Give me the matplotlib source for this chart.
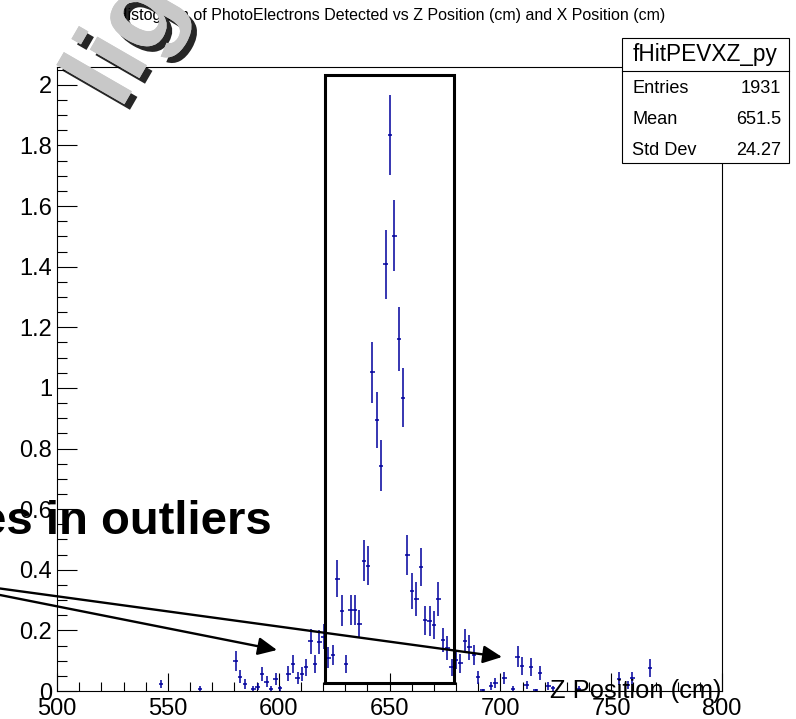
import numpy as np
import matplotlib.pyplot as plt
from matplotlib.patches import Rectangle, FancyArrowPatch, ArrowStyle
import matplotlib.patheffects as pe

plt.rcParams['font.family'] = ['Liberation Sans', 'DejaVu Sans']

# bin centres (cm), mean photoelectrons and error per bin
z_pos = [546.8, 564.6, 580.6, 582.6, 584.7, 588.6, 590.5, 592.5, 594.6, 596.5,
         598.6, 600.6, 604.4, 606.5, 608.5, 610.5, 612.4, 614.4, 616.4, 618.4,
         620.3, 622.4, 624.4, 626.5, 628.5, 630.4, 632.5, 634.4, 636.4, 638.4,
         640.4, 642.3, 644.3, 646.2, 648.2, 650.2, 652.2, 654.2, 656.2, 658.1,
         660.1, 662.1, 664.1, 666.1, 668.1, 670.1, 672.1, 674.1, 676.1, 678.0,
         680.0, 682.0, 684.0, 686.0, 688.0, 690.0, 692.0, 695.9, 697.8, 701.8,
         705.8, 707.8, 709.9, 711.9, 713.9, 715.9, 717.9, 721.7, 723.8, 735.3,
         753.6, 757.6, 759.6, 767.5]
pe_mean = [0.023, 0.008, 0.100, 0.047, 0.023, 0.008, 0.014, 0.056, 0.031, 0.007,
           0.041, 0.009, 0.057, 0.089, 0.042, 0.056, 0.078, 0.164, 0.090, 0.162,
           0.179, 0.110, 0.119, 0.371, 0.265, 0.089, 0.267, 0.267, 0.221, 0.430,
           0.414, 1.051, 0.894, 0.743, 1.408, 1.833, 1.503, 1.161, 0.968, 0.449,
           0.330, 0.304, 0.409, 0.234, 0.231, 0.218, 0.304, 0.168, 0.141, 0.079,
           0.103, 0.091, 0.166, 0.144, 0.119, 0.045, 0.003, 0.017, 0.027, 0.043,
           0.008, 0.113, 0.083, 0.020, 0.080, 0.002, 0.060, 0.017, 0.009, 0.008,
           0.041, 0.020, 0.042, 0.076]
pe_err = [0.014, 0.009, 0.033, 0.021, 0.015, 0.009, 0.011, 0.023, 0.017, 0.008,
          0.020, 0.009, 0.024, 0.030, 0.020, 0.023, 0.028, 0.041, 0.030, 0.040,
          0.042, 0.034, 0.034, 0.060, 0.051, 0.029, 0.050, 0.050, 0.046, 0.067,
          0.063, 0.100, 0.093, 0.084, 0.114, 0.132, 0.118, 0.106, 0.098, 0.065,
          0.058, 0.056, 0.064, 0.048, 0.050, 0.046, 0.055, 0.040, 0.040, 0.028,
          0.031, 0.030, 0.038, 0.041, 0.033, 0.021, 0.005, 0.013, 0.016, 0.021,
          0.009, 0.035, 0.030, 0.014, 0.029, 0.004, 0.024, 0.013, 0.009, 0.009,
          0.021, 0.014, 0.021, 0.029]

x_ticks = [500, 550, 600, 650, 700, 750, 800]
y_ticks = [0, 0.2, 0.4, 0.6, 0.8, 1, 1.2, 1.4, 1.6, 1.8, 2]
stats = [('Entries', '1931'), ('Mean', '651.5'), ('Std Dev', '24.27')]

W, H = 796, 719
fig = plt.figure(figsize=(W / 100, H / 100), dpi=100)


def fx(px):
    return px / W


def fy(py):
    return 1 - py / H


ax = fig.add_axes([fx(57), fy(691), fx(722) - fx(57), fy(66.7) - fy(691)])
ax.errorbar(z_pos, pe_mean, yerr=pe_err, xerr=1.0, fmt='none',
            ecolor='#00009c', elinewidth=1.1, capsize=0)

ax.set_xlim(500, 800)
ax.set_ylim(0, 2.06)
ax.set_xticks(x_ticks)
ax.set_xticklabels([str(t) for t in x_ticks])
ax.set_xticks(np.arange(500, 801, 10), minor=True)
ax.set_yticks(y_ticks)
ax.set_yticklabels([f'{t:g}' for t in y_ticks])
ax.set_yticks(np.arange(0, 2.06, 0.05), minor=True)
ax.tick_params(axis='both', which='both', direction='in', labelsize=17,
               top=False, right=False, width=0.8)
ax.tick_params(axis='x', which='major', length=13, pad=5)
ax.tick_params(axis='x', which='minor', length=6.5)
ax.tick_params(axis='y', which='major', length=14.4, pad=3.6)
ax.tick_params(axis='y', which='minor', length=7.2)
for s in ax.spines.values():
    s.set_linewidth(0.8)

# selection box around the peak
ax.add_patch(Rectangle((621, 0.027), 58, 2.006, fill=False, lw=2.2,
                       edgecolor='black', clip_on=False, zorder=4))

# title
fig.text(fx(665), fy(20), 'Histogram of PhotoElectrons Detected vs Z Position (cm) and X Position (cm)',
         ha='right', va='baseline', fontsize=11.5)

# stats box
fig.add_artist(Rectangle((fx(622), fy(163)), fx(789) - fx(622), fy(38) - fy(163),
                         transform=fig.transFigure, facecolor='white',
                         edgecolor='black', lw=0.8, zorder=5))
fig.add_artist(plt.Line2D([fx(622), fx(789)], [fy(70.7), fy(70.7)],
                          transform=fig.transFigure, color='black', lw=0.8, zorder=6))
fig.text(fx(705.5), fy(54), 'fHitPEVXZ_py', ha='center', va='center',
         fontsize=16.3, zorder=7)
for i, (k, val) in enumerate(stats):
    yb = fy(92.7 + i * 31.2)
    fig.text(fx(632), yb, k, ha='left', va='baseline', fontsize=13.1, zorder=7)
    fig.text(fx(781), yb, val, ha='right', va='baseline', fontsize=13.1, zorder=7)

# x axis title
fig.text(fx(722), fy(698), 'Z Position (cm)', ha='right', va='baseline',
         fontsize=18.4, zorder=8)

# annotation text and arrows
fig.text(fx(272), fy(534), 'es in outliers', ha='right', va='baseline',
         fontsize=34, weight='bold', zorder=8)

for (x0, y0), (x1, y1) in [((0, 588.5), (502, 657)), ((0, 595), (277, 650))]:
    fig.add_artist(FancyArrowPatch((fx(x0), fy(y0)), (fx(x1), fy(y1)),
                                   transform=fig.transFigure,
                                   arrowstyle=ArrowStyle('-|>', head_length=11.5, head_width=5.4),
                                   mutation_scale=1, lw=1.7, color='black',
                                   shrinkA=0, shrinkB=0, zorder=8))

fig.text(fx(128), fy(42), 'lig', rotation=60, fontsize=78, weight='bold',
         color='#c8c8c8', ha='center', va='center', zorder=9,
         path_effects=[pe.withSimplePatchShadow(offset=(4, -4), shadow_rgbFace='black', alpha=0.85),
                       pe.Normal()])

fig.savefig('out.png', dpi=100)
